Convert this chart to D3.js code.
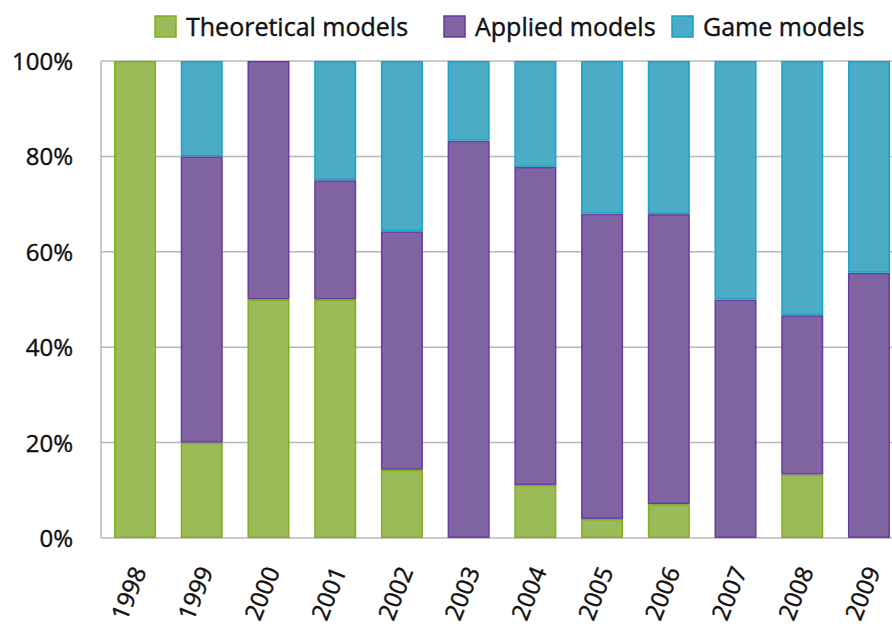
<!DOCTYPE html>
<html><head><meta charset="utf-8">
<script src="https://cdn.jsdelivr.net/npm/d3@7"></script>
<style>body{margin:0;background:#fff;} svg{display:block;font-family:"Open Sans",sans-serif;}</style>
</head><body>
<svg id="c" width="892" height="628"></svg>
<script>
const years = ["1998","1999","2000","2001","2002","2003","2004","2005","2006","2007","2008","2009"];
const theoretical = [100, 20, 50, 50, 14.3, 0, 11.1, 4, 7.1, 0, 13.3, 0];
const applied     = [0, 60, 50, 25, 50, 83.3, 66.7, 64, 60.8, 50, 33.4, 55.6];
const game        = [0, 20, 0, 25, 35.7, 16.7, 22.2, 32, 32.1, 50, 53.3, 44.4];
const seriesNames = ["Theoretical models","Applied models","Game models"];
const fills   = ["#9bbb59","#8064a2","#4bacc6"];
const strokes = ["#7fb01e","#6a3aa0","#1aa3c4"];
const yTicks = [0,20,40,60,80,100];

const svg = d3.select("#c");
const x = d3.scaleBand().domain(years).range([101, 903]).paddingInner(0.37).paddingOuter(0.195);
const y = d3.scaleLinear().domain([0,100]).range([538, 61]);

// gridlines
svg.append("g").selectAll("line").data(yTicks).join("line")
  .attr("x1",101).attr("x2",892).attr("y1",d=>y(d)).attr("y2",d=>y(d))
  .attr("stroke","#b8b8b8").attr("stroke-width",1.5);
svg.append("line").attr("x1",101).attr("x2",101).attr("y1",y(0)).attr("y2",y(100))
  .attr("stroke","#b8b8b8").attr("stroke-width",1.5);

const table = years.map((yr,i)=>({year:yr, t:theoretical[i], a:applied[i], g:game[i]}));
const stack = d3.stack().keys(["t","a","g"])(table);

svg.append("g").selectAll("g").data(stack).join("g")
  .attr("fill",(d,i)=>fills[i]).attr("stroke",(d,i)=>strokes[i]).attr("stroke-width",1.5)
  .selectAll("rect").data(d=>d.filter(p=>p[1]-p[0]>0)).join("rect")
  .attr("x",d=>x(d.data.year)+0.75).attr("width",x.bandwidth()-1.5)
  .attr("y",d=>y(d[1])+0.75).attr("height",d=>Math.max(0,y(d[0])-y(d[1])-1.5));

// y axis labels
const yAxis = d3.axisLeft(y).tickValues(yTicks).tickFormat(d=>d+"%").tickSize(0).tickPadding(28);
const ya = svg.append("g").attr("transform","translate(101,0)").call(yAxis);
ya.select(".domain").remove();
ya.selectAll("text").attr("font-size",24).attr("fill","#111").attr("stroke","#111").attr("stroke-width",0.4)
  .attr("font-family","'Open Sans',sans-serif").attr("dy","0.35em");

// x axis labels
const xAxis = d3.axisBottom(x).tickSize(0).tickPadding(0);
const xa = svg.append("g").attr("transform","translate(0,538)").call(xAxis);
xa.select(".domain").remove();
xa.selectAll("text").attr("font-size",24).attr("fill","#111").attr("stroke","#111").attr("stroke-width",0.4)
  .attr("font-family","'Open Sans',sans-serif")
  .attr("text-anchor","end").attr("dy","0.35em")
  .attr("transform",function(d){return "translate(4,30) rotate(-68)";})
  .attr("x",0).attr("y",0);

// legend
const legX = [154, 443, 671];
const lg = svg.append("g").selectAll("g").data(seriesNames).join("g")
  .attr("transform",(d,i)=>`translate(${legX[i]},15)`);
lg.append("rect").attr("x",1).attr("y",1).attr("width",21).attr("height",21)
  .attr("fill",(d,i)=>fills[i]).attr("stroke",(d,i)=>strokes[i]).attr("stroke-width",1.5);
lg.append("text").attr("x",32).attr("y",12).attr("dy","0.35em").attr("font-size",25)
  .attr("fill","#111").attr("stroke","#111").attr("stroke-width",0.4).text(d=>d);
</script>
</body></html>
